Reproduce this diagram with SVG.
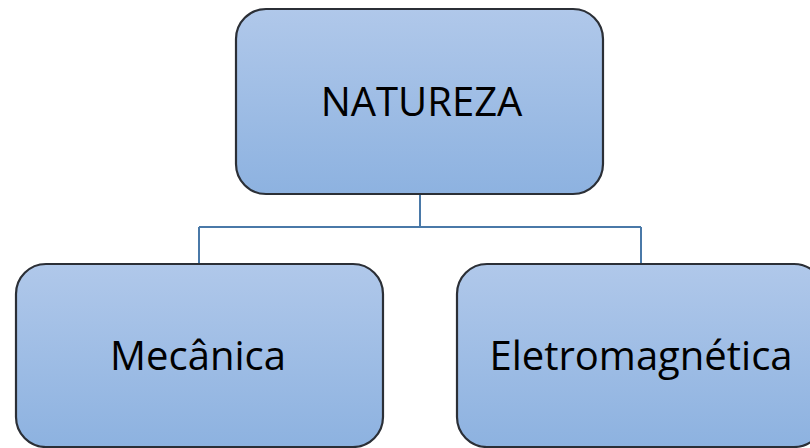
<svg xmlns="http://www.w3.org/2000/svg" width="810" height="448" viewBox="0 0 810 448">
<defs>
<linearGradient id="g" x1="0" y1="0" x2="0" y2="1">
<stop offset="0" stop-color="#b0c8ea"/>
<stop offset="1" stop-color="#8db2e0"/>
</linearGradient>
<style>
.box{fill:url(#g);stroke:#2b2f36;stroke-width:2.2}
.lbl{font-family:"Open Sans","Liberation Sans",sans-serif;fill:#000;text-anchor:middle;font-size:40px}
.con{fill:none;stroke:#4a79a8;stroke-width:2}
</style>
</defs>
<rect width="810" height="448" fill="#fff"/>
<g id="connectors">
<path class="con" d="M420,194 V227 M199,227 H641 M199,227 V264 M641,227 V264"/>
</g>
<g id="natureza">
<rect class="box" x="236" y="9" width="367" height="185" rx="30"/>
<text class="lbl" x="421.5" y="116">NATUREZA</text>
</g>
<g id="mecanica">
<rect class="box" x="16" y="264" width="367" height="183" rx="30"/>
<text class="lbl" x="198" y="370">Mecânica</text>
</g>
<g id="eletromagnetica">
<rect class="box" x="457" y="264" width="367" height="183" rx="30"/>
<text class="lbl" x="641" y="370">Eletromagnética</text>
</g>
</svg>
